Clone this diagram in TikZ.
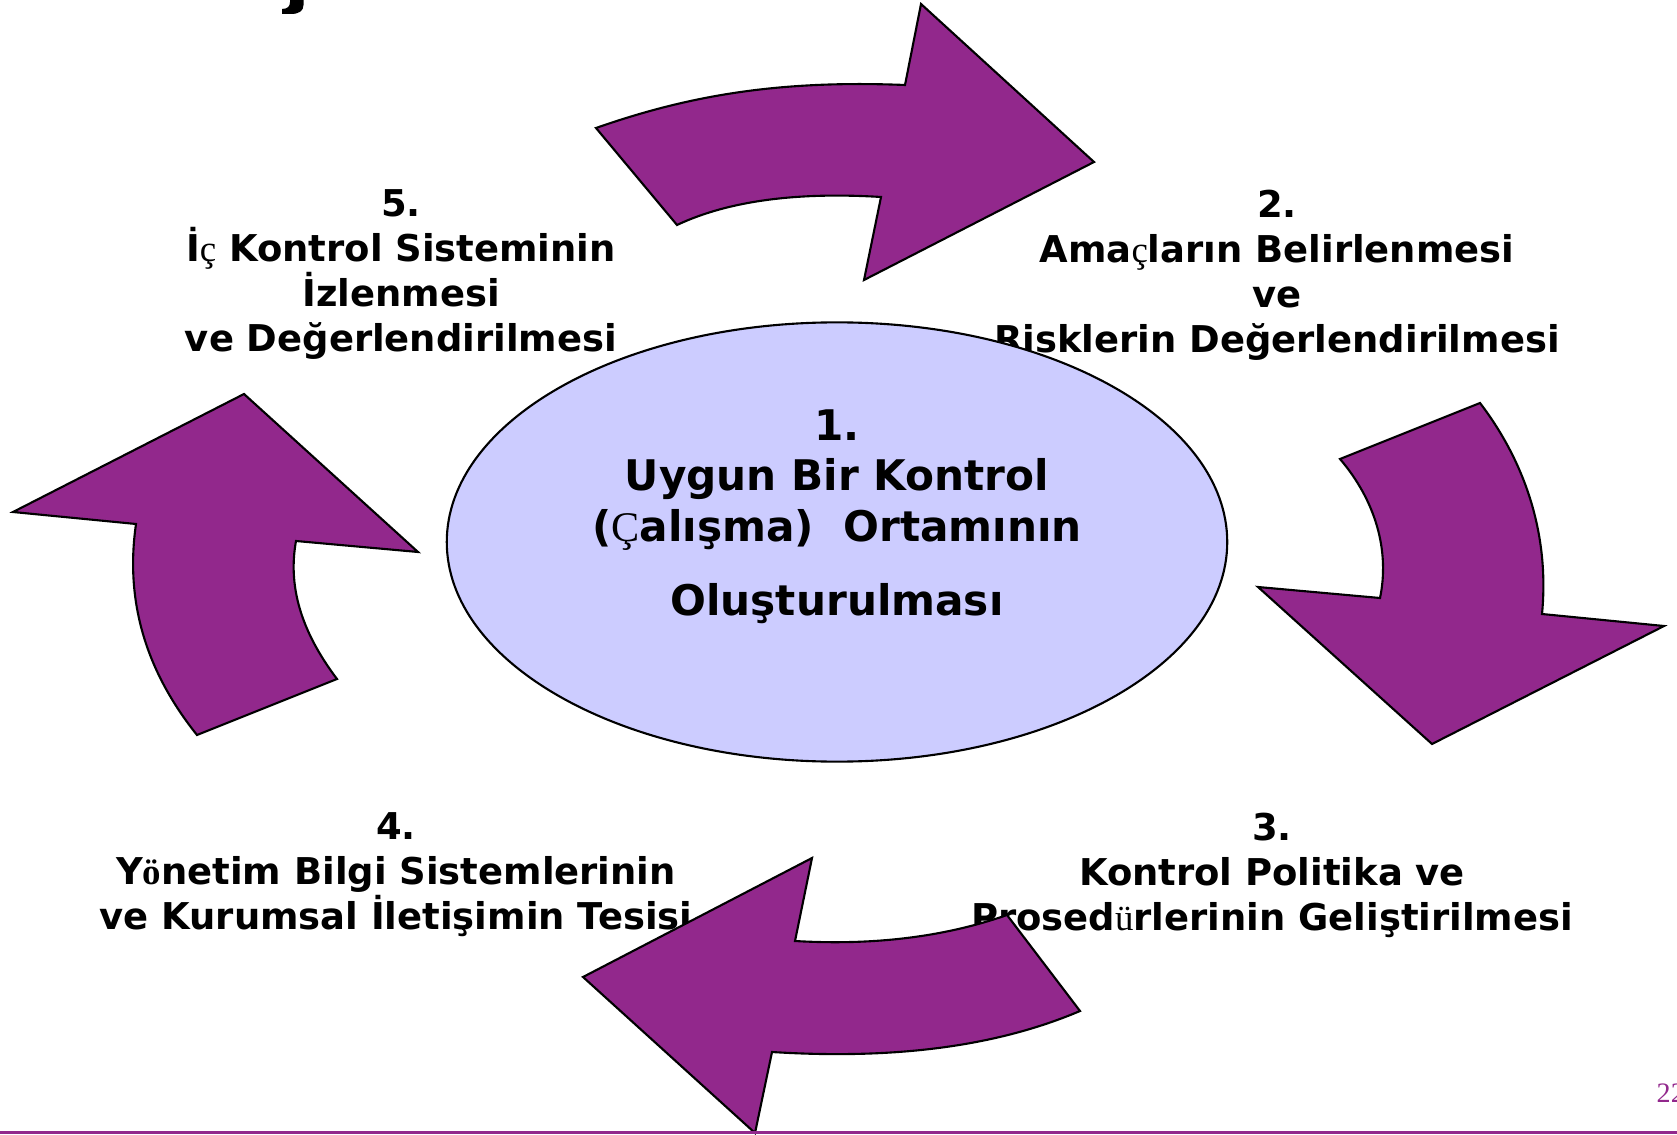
\documentclass[tikz,border=0pt]{standalone}
\usepackage{fontspec}
\setmainfont{DejaVu Sans}
\newfontfamily\serifpart{Liberation Serif}
\usetikzlibrary{shapes.geometric}
\definecolor{arrowpurple}{RGB}{146,40,140}
\definecolor{envlilac}{RGB}{204,204,255}
\newcommand{\tnr}[1]{{\serifpart\mdseries #1}}
\newcommand{\tnrb}[1]{{\serifpart\bfseries #1}}

\begin{document}
\begin{tikzpicture}[x=0.01cm, y=-0.01cm,
    blk/.style={fill=arrowpurple, draw=black, line width=0.6pt, line join=miter},
    lbl/.style={align=center, inner sep=0pt, font=\fontsize{10.5}{12.8}\selectfont\bfseries},
]
    \useasboundingbox (0,0) rectangle (1677,1134);
    \fill (290,0) -- (303.5,0) -- (303.5,5) .. controls (303.5,11) and (299,14) .. (291,14)
        -- (282,14) -- (282,9) .. controls (288,9) and (290,6) .. (290,2) -- cycle;

    \node[lbl] (s5) at (401,275) {5.\\İ\tnr{ç} Kontrol Sisteminin\\İzlenmesi\\ve Değerlendirilmesi};
    \node[lbl] (s2) at (1277,275) {2.\\Ama\tnr{ç}ların Belirlenmesi\\ve\\Risklerin Değerlendirilmesi};
    \node[lbl] (s3) at (1272,875) {3.\\Kontrol Politika ve\\Prosed\tnr{ü}rlerinin Geliştirilmesi};
    \node[lbl] (s4) at (396,875) {4.\\Y\tnrb{ö}netim Bilgi Sistemlerinin\\ve Kurumsal İletişimin Tesisi};

    \node[ellipse, draw=black, line width=0.6pt, fill=envlilac, minimum width=7.8cm,
        minimum height=4.39cm, inner sep=0pt] (env) at (837,542) {};
    \node[lbl, font=\fontsize{12}{14.3}\selectfont\bfseries] (t1) at (837,517)
        {1.\\Uygun Bir Kontrol\\(\tnr{Ç}alışma)\ \ Ortamının\\[7pt]Oluşturulması};

    \draw[blk] (596,128) .. controls (690,95) and (780,80) .. (905,85) -- (921,4) -- (1094,162)
        -- (864,280) -- (881,197) .. controls (800,192) and (730,200) .. (677,225) -- cycle;
    \draw[blk] (1480,403) .. controls (1522,458) and (1550,530) .. (1542,614) -- (1664,626)
        -- (1432,744) -- (1258,587) -- (1380,598) .. controls (1390,550) and (1375,500) .. (1340,459) -- cycle;
    \draw[blk] (1080,1011) .. controls (1000,1045) and (900,1060) .. (772,1052) -- (755,1133)
        -- (583,977) -- (812,858) -- (795,941) .. controls (880,946) and (950,935) .. (1007,915) -- cycle;
    \draw[blk] (337,679) .. controls (300,630) and (288,585) .. (296,541) -- (418,552) -- (244,394)
        -- (13,512) -- (136,524) .. controls (125,600) and (145,670) .. (197,735) -- cycle;

    \fill[arrowpurple] (0,1131) rectangle (1677,1134);
    \node[text=arrowpurple, font=\serifpart\fontsize{8}{9}\selectfont, anchor=base west,
        inner sep=0pt] (pg) at (1656,1102) {22};
\end{tikzpicture}
\end{document}
